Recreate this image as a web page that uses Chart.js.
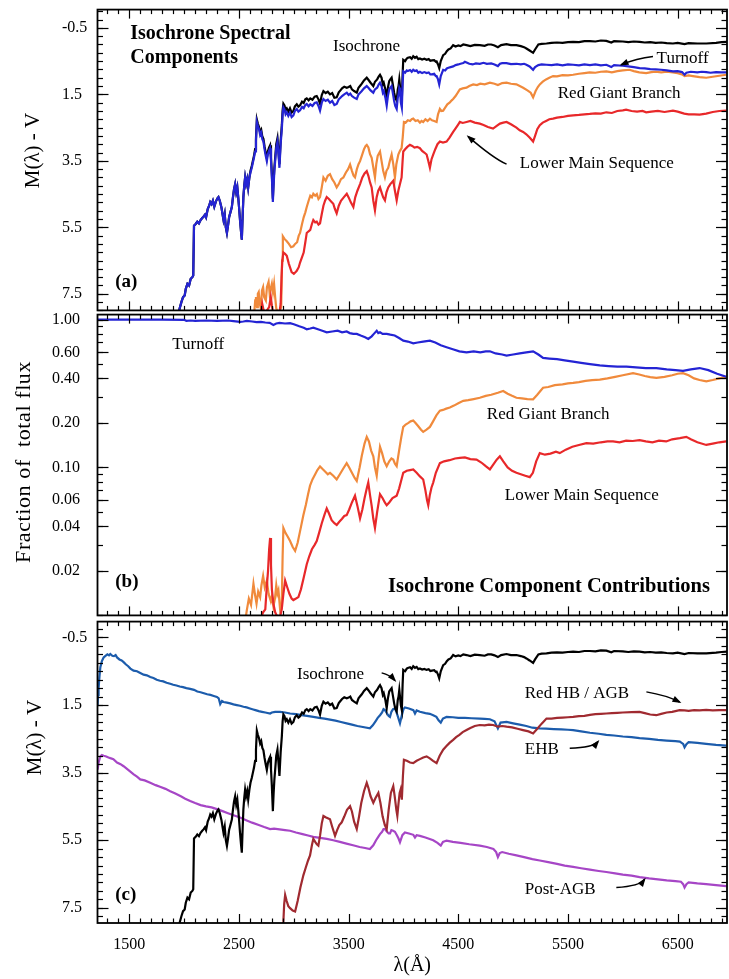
<!DOCTYPE html>
<html>
<head>
<meta charset="utf-8">
<script src="https://cdn.jsdelivr.net/npm/chart.js@4.4.0/dist/chart.umd.min.js"></script>
<style>
  html, body { margin: 0; padding: 0; background: #fff; }
  #wrap { position: relative; width: 729px; height: 979px; overflow: hidden; background: #fff; }
  .panel { position: absolute; left: 0; width: 729px; }
  canvas { display: block; }
</style>
</head>
<body>
<div id="wrap">
  <div class="panel" style="top:0px;height:320px"><canvas id="cA" width="729" height="320"></canvas></div>
  <div class="panel" style="top:305px;height:320px"><canvas id="cB" width="729" height="320"></canvas></div>
  <div class="panel" style="top:612px;height:367px"><canvas id="cC" width="729" height="367"></canvas></div>
</div>
<script>
// ---------- axis ticks ----------
const waveTicks = [1500, 2500, 3500, 4500, 5500, 6500];
const magTicks = [-0.5, 1.5, 3.5, 5.5, 7.5];
const fracTicks = [1.00, 0.60, 0.40, 0.20, 0.10, 0.06, 0.04, 0.02];

// ---------- full isochrone spectrum, M(lambda) - V (panels a and c) ----------
const iso_wave = [1950,1975,1990,2005,2015,2030,2045,2060,2075,2083,2090,2105,2120,2135,2150,2165,2177,2190,2200,2215,2228,2238,2250,2262,2275,2290,2305,2313,2325,2340,2350,2359,2370,2380,2390,2400,2410,2422,2435,2445,2455,2465,2475,2485,2493,2502,2510,2518,2526,2533,2540,2548,2556,2565,2575,2584,2595,
  2605,2617,2627,2637,2647,2655,2663,2672,2683,2693,2703,2713,2723,2733,2744,2754,2764,2774,2784,2792,2800,2809,2816,2823,2830,2840,2851,2860,2869,2880,2891,2898,2905,2915,2925,2936,2950,2965,2980,2996,3010,3027,3042,3057,3075,3090,3105,3118,3135,3150,3170,3190,3209,3225,3239,3255,3270,3290,3310,3330,3350,3370,3391,3410,3425,3440,3460,3483,3500,3515,3530,3550,3574,3590,3605,3620,3640,3665,3680,3700,3725,3740,3760,3775,3786,3800,3812,3820,3835,3847,3858,3870,3880,3892,3905,3915,3925,3938,3948,3955,3962,3968,3976,3985,3992,3998,4015,4030,4040,4060,4075,4089,4105,4120,4135,4150,4170,4190,4211,4230,4245,4260,4280,4295,4302,4315,4326,4340,4362,4380,4395,4410,4430,4453,4475,4500,4520,4545,4575,4610,4650,4696,4740,4770,4800,4830,4861,4890,4939,4980,5030,5070,5100,5121,5150,5182,5200,5230,5260,5304,5350,5400,5450,5500,5547,5600,5650,5700,5750,5800,5850,5895,5920,6000,6050,6100,6153,6200,6250,6300,6350,6400,6457,6500,6563,6600,6680,6761,6850,6900,6950];
const iso_mag = [8.05,7.75,7.6,7.55,7.35,7.2,7.25,7.05,7.0,6.95,5.45,5.4,5.33,5.38,5.28,5.22,5.18,5.12,5.2,4.95,4.85,4.74,4.8,4.7,4.88,4.72,4.62,4.59,4.7,4.9,5.1,5.28,5.1,5.5,5.67,5.45,5.2,5.05,4.89,4.6,4.35,4.2,4.45,4.3,4.59,4.95,5.3,5.6,5.87,5.2,4.6,4.25,4.0,4.2,4.05,4.3,4.0,
  3.8,3.65,3.5,3.35,3.15,2.82,2.26,2.38,2.48,2.64,2.57,2.77,2.84,3.06,3.26,3.42,3.21,3.1,3.03,3.4,3.9,4.64,4.1,3.7,3.42,3.0,2.82,3.2,3.6,2.9,2.42,1.98,1.78,1.83,1.97,1.92,2.02,1.92,2.05,2.0,1.86,1.8,1.87,1.83,1.72,1.76,1.65,1.62,1.68,1.62,1.66,1.57,1.55,1.65,1.78,1.52,1.40,1.46,1.42,1.50,1.46,1.6,1.59,1.44,1.38,1.32,1.27,1.30,1.28,1.25,1.35,1.4,1.45,1.3,1.24,1.18,1.08,1.0,1.06,1.15,1.25,1.12,1.05,0.96,0.91,1.0,1.2,1.15,1.35,1.59,1.3,1.10,1.05,1.0,1.25,1.45,1.6,1.69,1.35,1.25,1.05,1.05,1.5,1.65,0.9,0.46,0.5,0.42,0.40,0.38,0.43,0.35,0.4,0.37,0.44,0.42,0.45,0.43,0.46,0.44,0.49,0.48,0.47,0.52,0.51,0.6,0.71,0.5,0.32,0.28,0.2,0.15,0.12,0.02,0.06,0.03,0.05,0.0,0.02,0.05,0.01,0.02,0.04,0.0,0.0,0.03,0.08,0.02,-0.01,0.02,0.02,0.05,0.08,0.12,0.18,0.25,0.15,0.0,-0.02,-0.03,-0.05,-0.06,-0.05,-0.07,-0.08,-0.07,-0.1,-0.10,-0.09,-0.12,-0.11,-0.06,-0.1,-0.09,-0.07,-0.09,-0.08,-0.06,-0.07,-0.05,-0.06,-0.04,-0.03,-0.05,-0.01,-0.04,-0.03,-0.03,-0.05,-0.07,-0.08];

// ---------- panel (a): components ----------
const turnoff_wave = [1950,1975,1990,2005,2015,2030,2045,2060,2075,2083,2090,2105,2120,2135,2150,2165,2177,2190,2200,2215,2228,2238,2250,2262,2275,2290,2305,2313,2325,2340,2350,2359,2370,2380,2390,2400,2410,2422,2435,2445,2455,2465,2475,2485,2493,2502,2510,2518,2526,2533,2540,2548,2556,2565,2575,2584,2595,2605,2617,2627,2637,2647,2655,2663,2672,2683,2693,2703,2713,2723,2733,2744,2754,2764,2774,2784,2792,2800,2809,2816,2823,2830,2840,2851,2860,2869,2880,2891,2898,2905,2915,2925,2936,2950,2965,2980,2996,3010,3027,3042,3057,3075,3090,3105,3118,3135,3150,3170,3190,3209,3225,3239,3255,3270,3290,3310,3330,3350,3370,3391,3410,3425,3440,3460,3483,3500,3515,3530,3550,3574,3590,3605,3620,3640,3665,3680,3700,3725,3740,3760,3775,3786,3800,3812,3820,3835,3847,3858,3870,3880,3892,3905,3915,3925,3938,3948,3955,3962,3968,3976,3985,3992,3998,4015,4030,4040,4060,4075,4089,4105,4120,4135,4150,4170,4190,4211,4230,4245,4260,4280,4295,4302,4315,4326,4340,4362,4380,4395,4410,4430,4453,4475,4500,4520,4545,4560,4575,4600,4630,4660,4696,4730,4760,4800,4830,4861,4880,4900,4939,4980,5030,5070,5100,5121,5150,5182,5200,5230,5260,5304,5350,5400,5450,5500,5547,5600,5650,5700,5750,5800,5850,5895,5920,6000,6050,6100,6153,6200,6250,6300,6350,6400,6457,6500,6540,6563,6580,6620,6680,6720,6761,6800,6850,6900,6950];
const turnoff_mag = [8.05,7.75,7.6,7.55,7.35,7.2,7.25,7.05,7.0,6.95,5.45,5.4,5.33,5.38,5.28,5.22,5.18,5.12,5.2,4.95,4.85,4.74,4.8,4.7,4.88,4.72,4.62,4.59,4.7,4.9,5.1,5.28,5.1,5.5,5.67,5.45,5.2,5.05,4.89,4.6,4.35,4.2,4.45,4.3,4.59,4.95,5.3,5.6,5.87,5.2,4.6,4.25,4.0,4.2,4.05,4.3,4.0,3.85,3.71,3.55,3.4,3.22,2.9,2.33,2.45,2.55,2.72,2.65,2.85,2.92,3.15,3.35,3.51,3.3,3.2,3.12,3.5,4.0,4.74,4.2,3.8,3.51,3.1,2.92,3.3,3.71,3.0,2.53,2.1,1.89,1.95,2.1,2.04,2.15,2.05,2.18,2.13,2.0,1.94,2.02,1.98,1.88,1.92,1.82,1.79,1.86,1.8,1.85,1.76,1.74,1.85,1.99,1.75,1.64,1.7,1.66,1.75,1.7,1.82,1.79,1.65,1.6,1.55,1.5,1.45,1.52,1.48,1.55,1.6,1.64,1.5,1.45,1.40,1.32,1.25,1.3,1.38,1.45,1.35,1.30,1.2,1.15,1.25,1.45,1.40,1.6,1.84,1.55,1.35,1.3,1.25,1.5,1.70,1.85,1.94,1.6,1.50,1.3,1.35,1.75,1.90,1.2,0.81,0.85,0.78,0.80,0.77,0.82,0.76,0.8,0.78,0.85,0.82,0.86,0.83,0.86,0.84,0.9,0.90,0.88,0.95,0.95,1.05,1.20,0.95,0.76,0.78,0.72,0.70,0.68,0.66,0.62,0.6,0.58,0.56,0.52,0.54,0.58,0.60,0.57,0.58,0.55,0.58,0.57,0.6,0.65,0.58,0.56,0.56,0.59,0.58,0.6,0.58,0.61,0.66,0.76,0.68,0.62,0.6,0.61,0.62,0.60,0.63,0.6,0.61,0.63,0.6,0.62,0.6,0.63,0.61,0.68,0.62,0.64,0.66,0.68,0.71,0.72,0.74,0.75,0.76,0.78,0.81,0.8,0.83,0.91,0.85,0.82,0.84,0.82,0.83,0.85,0.83,0.84,0.84];

const rgb_wave = [2640,2648,2655,2665,2672,2680,2690,2700,2710,2720,2730,2745,2755,2770,2780,2790,2800,2810,2820,2830,2840,2855,2870,2885,2893,2900,2915,2936,2955,2975,2996,3012,3030,3045,3057,3075,3090,3105,3118,3135,3150,3165,3178,3195,3210,3225,3239,3255,3270,3290,3310,3330,3350,3370,3391,3410,3430,3452,3475,3495,3513,3530,3545,3558,3575,3590,3604,3620,3640,3655,3665,3680,3695,3710,3725,3740,3752,3765,3786,3800,3815,3831,3845,3861,3876,3892,3907,3922,3935,3953,3968,3983,3993,4004,4020,4040,4060,4075,4089,4110,4130,4150,4165,4180,4200,4220,4241,4260,4280,4302,4315,4332,4345,4362,4380,4400,4423,4440,4453,4475,4495,4514,4540,4575,4600,4636,4670,4700,4740,4788,4830,4861,4900,4940,4980,5030,5060,5091,5130,5160,5182,5205,5225,5243,5270,5300,5330,5364,5400,5450,5500,5547,5600,5650,5698,5750,5800,5850,5900,5950,6000,6061,6100,6150,6213,6260,6300,6350,6400,6457,6500,6540,6563,6600,6639,6700,6761,6820,6880,6943];
const rgb_mag = [8.05,7.7,7.6,7.9,7.5,7.45,7.8,7.95,7.4,7.3,7.6,7.7,7.3,7.14,7.5,7.35,7.2,7.45,7.2,7.6,7.94,8.05,8.05,7.9,6.5,5.77,5.85,5.92,6.0,6.1,6.07,6.0,5.95,5.75,5.67,5.4,5.2,5.05,4.89,4.7,4.55,4.6,4.49,4.55,4.5,4.65,4.59,4.3,4.0,4.1,3.95,3.9,4.05,4.15,4.3,4.2,4.05,4.0,3.85,3.75,3.61,3.8,3.95,4.0,3.75,3.6,3.51,3.35,3.15,3.05,3.02,3.1,3.3,3.41,3.7,4.0,3.6,3.35,3.22,3.5,3.8,4.0,3.8,3.71,3.5,3.31,3.6,4.0,3.6,3.31,3.2,3.12,2.8,2.33,2.35,2.28,2.3,2.25,2.23,2.3,2.28,2.35,2.3,2.33,2.25,2.3,2.23,2.28,2.3,2.33,2.1,1.94,2.0,1.99,1.9,1.8,1.74,1.68,1.64,1.55,1.45,1.35,1.32,1.30,1.25,1.20,1.22,1.18,1.2,1.15,1.18,1.22,1.16,1.15,1.18,1.2,1.25,1.30,1.38,1.45,1.59,1.4,1.28,1.20,1.12,1.05,1.0,0.95,0.96,0.92,0.93,0.91,0.88,0.86,0.84,0.85,0.82,0.81,0.84,0.8,0.78,0.76,0.8,0.84,0.86,0.83,0.82,0.84,0.82,0.84,0.86,0.9,0.95,0.93,0.95,0.98,1.0,0.97,0.94,0.91];

const lms_wave = [2700,2712,2725,2745,2775,2790,2800,2810,2870,2880,2888,2895,2905,2920,2936,2955,2980,3000,3015,3027,3045,3057,3075,3090,3105,3118,3135,3150,3165,3178,3195,3209,3225,3239,3255,3270,3285,3300,3320,3340,3360,3375,3391,3410,3430,3455,3483,3500,3520,3543,3560,3580,3604,3625,3645,3665,3680,3695,3710,3725,3740,3755,3770,3786,3800,3815,3831,3845,3861,3880,3907,3922,3938,3953,3968,3983,3992,3998,4015,4035,4059,4080,4100,4125,4150,4170,4190,4211,4226,4241,4256,4271,4290,4310,4332,4360,4393,4420,4453,4480,4500,4514,4540,4575,4610,4650,4696,4730,4770,4817,4850,4880,4910,4940,4980,5030,5060,5091,5120,5150,5182,5200,5220,5243,5270,5300,5330,5364,5400,5450,5500,5547,5600,5650,5698,5750,5800,5850,5900,5950,6000,6030,6080,6130,6180,6213,6260,6320,6380,6457,6500,6560,6600,6650,6700,6760,6820,6880,6943];
const lms_mag = [8.05,7.8,8.0,8.05,7.9,7.6,7.85,8.05,8.05,7.8,7.0,6.5,6.26,6.3,6.36,6.6,6.85,6.9,6.85,6.81,6.7,6.56,6.4,6.26,5.95,5.67,5.62,5.58,5.4,5.28,5.35,5.33,5.42,5.38,5.1,4.85,4.7,4.59,4.65,4.72,4.79,4.95,5.08,4.85,4.7,4.6,4.49,4.6,4.75,4.89,4.6,4.4,4.2,4.0,3.88,3.81,3.95,4.15,4.3,4.7,4.99,4.6,4.4,4.3,4.45,4.6,4.69,4.45,4.3,4.2,4.1,4.4,4.69,4.4,4.2,4.0,3.5,3.22,3.15,3.08,3.02,3.05,3.1,3.08,3.12,3.2,3.25,3.31,3.5,3.71,3.45,3.31,3.15,3.0,2.92,2.95,2.92,2.8,2.63,2.5,2.4,2.33,2.36,2.33,2.3,2.35,2.38,2.42,2.48,2.53,2.45,2.38,2.35,2.33,2.4,2.5,2.58,2.63,2.7,2.8,2.92,2.75,2.55,2.43,2.35,2.3,2.25,2.23,2.2,2.18,2.15,2.13,2.12,2.1,2.09,2.07,2.08,2.04,2.06,2.0,1.98,1.96,2.0,2.02,2.0,2.04,2.02,2.0,2.03,1.99,2.02,2.08,2.1,2.1,2.11,2.08,2.03,2.0,1.99];

// ---------- panel (b): fraction of the total flux ----------
const turnoffFrac_wave = [1210,1500,1800,2000,2020,2060,2100,2200,2300,2400,2450,2511,2540,2572,2620,2660,2700,2740,2780,2814,2840,2870,2920,2966,3000,3050,3090,3118,3150,3178,3220,3260,3300,3350,3400,3440,3482,3510,3543,3574,3610,3650,3679,3710,3730,3756,3770,3786,3810,3847,3880,3920,3960,3998,4040,4089,4130,4180,4241,4290,4340,4393,4450,4510,4575,4640,4700,4750,4788,4840,4900,4940,5000,5060,5120,5182,5230,5273,5330,5400,5470,5547,5620,5700,5790,5870,5950,6033,6120,6210,6306,6400,6480,6549,6620,6700,6780,6860,6943];
const turnoffFrac = [1.0,1.0,1.0,0.995,0.98,0.985,0.98,0.985,0.98,0.985,0.975,0.965,0.97,0.98,0.97,0.96,0.965,0.955,0.95,0.92,0.94,0.95,0.94,0.945,0.93,0.90,0.88,0.86,0.87,0.88,0.86,0.84,0.82,0.83,0.84,0.82,0.83,0.81,0.80,0.80,0.78,0.76,0.74,0.77,0.80,0.84,0.81,0.82,0.80,0.80,0.79,0.78,0.75,0.72,0.71,0.69,0.70,0.71,0.72,0.70,0.67,0.65,0.63,0.61,0.60,0.61,0.60,0.61,0.61,0.59,0.58,0.57,0.58,0.59,0.60,0.61,0.58,0.55,0.545,0.54,0.53,0.52,0.51,0.50,0.49,0.485,0.48,0.48,0.475,0.47,0.47,0.46,0.455,0.45,0.46,0.47,0.455,0.43,0.41];

const rgbFrac_wave = [2560,2572,2590,2610,2632,2645,2660,2675,2693,2705,2720,2735,2754,2770,2790,2800,2814,2828,2840,2850,2860,2875,2890,2898,2905,2925,2945,2966,2990,3012,3035,3060,3087,3110,3130,3148,3170,3195,3215,3239,3260,3285,3310,3330,3360,3391,3420,3450,3482,3505,3530,3555,3574,3600,3620,3645,3665,3685,3705,3725,3740,3756,3770,3786,3805,3825,3847,3870,3890,3907,3922,3938,3960,3980,3998,4020,4045,4065,4089,4110,4135,4160,4180,4210,4241,4270,4300,4332,4360,4390,4423,4460,4500,4545,4590,4640,4696,4750,4800,4861,4909,4950,4990,5030,5080,5130,5182,5220,5250,5273,5320,5380,5450,5500,5547,5600,5660,5720,5790,5860,5930,6000,6093,6150,6200,6250,6306,6380,6450,6500,6549,6600,6650,6700,6761,6820,6880,6943];
const rgbFrac = [0.0095,0.0109,0.013,0.0118,0.0164,0.014,0.012,0.0145,0.0133,0.016,0.0185,0.0155,0.0172,0.014,0.0125,0.0135,0.0115,0.013,0.016,0.014,0.0148,0.011,0.012,0.025,0.039,0.036,0.034,0.0318,0.029,0.0273,0.031,0.038,0.0476,0.056,0.066,0.0753,0.083,0.09,0.096,0.1017,0.098,0.094,0.09,0.092,0.088,0.083,0.09,0.098,0.107,0.1,0.092,0.085,0.081,0.1,0.12,0.145,0.161,0.15,0.13,0.119,0.1,0.088,0.11,0.138,0.125,0.11,0.102,0.11,0.115,0.113,0.106,0.102,0.13,0.16,0.188,0.195,0.2,0.205,0.208,0.2,0.19,0.18,0.174,0.18,0.188,0.205,0.225,0.242,0.245,0.25,0.254,0.262,0.272,0.282,0.285,0.29,0.296,0.305,0.31,0.32,0.329,0.315,0.305,0.296,0.293,0.29,0.289,0.31,0.33,0.346,0.35,0.36,0.365,0.37,0.373,0.378,0.385,0.39,0.392,0.40,0.41,0.42,0.434,0.425,0.415,0.408,0.403,0.41,0.42,0.43,0.434,0.42,0.4,0.39,0.382,0.39,0.4,0.41];

const lmsFrac_wave = [2700,2720,2740,2752,2765,2775,2784,2792,2800,2814,2830,2850,2875,2890,2905,2921,2940,2960,2980,2996,3020,3042,3065,3090,3118,3140,3165,3190,3209,3230,3255,3280,3300,3320,3345,3370,3391,3415,3440,3460,3482,3505,3530,3558,3580,3604,3625,3645,3665,3679,3695,3710,3725,3740,3760,3786,3810,3830,3847,3870,3900,3938,3960,3980,3998,4030,4060,4089,4120,4150,4180,4200,4215,4226,4240,4255,4271,4295,4332,4370,4420,4470,4514,4560,4610,4666,4710,4750,4788,4820,4850,4879,4910,4950,4990,5030,5070,5110,5152,5180,5210,5243,5290,5340,5390,5425,5480,5540,5600,5668,5730,5800,5860,5911,5970,6030,6090,6153,6210,6270,6330,6396,6450,6520,6579,6620,6680,6761,6820,6880,6943];
const lmsFrac = [0.0095,0.0105,0.011,0.015,0.02,0.028,0.0334,0.022,0.015,0.012,0.0105,0.0098,0.0098,0.011,0.014,0.0172,0.0155,0.014,0.013,0.0127,0.013,0.0133,0.015,0.018,0.0222,0.025,0.028,0.03,0.0318,0.036,0.042,0.048,0.0528,0.049,0.044,0.042,0.0409,0.043,0.045,0.047,0.0476,0.052,0.058,0.0645,0.055,0.0453,0.052,0.062,0.072,0.0792,0.065,0.055,0.045,0.039,0.05,0.066,0.062,0.058,0.0555,0.058,0.062,0.0645,0.072,0.082,0.092,0.095,0.096,0.097,0.092,0.087,0.083,0.07,0.06,0.0555,0.065,0.073,0.079,0.092,0.107,0.11,0.112,0.115,0.116,0.117,0.114,0.113,0.108,0.102,0.097,0.105,0.113,0.119,0.11,0.1,0.095,0.092,0.09,0.088,0.086,0.092,0.11,0.125,0.122,0.124,0.128,0.125,0.132,0.138,0.142,0.146,0.145,0.148,0.15,0.150,0.148,0.152,0.151,0.153,0.15,0.148,0.152,0.150,0.155,0.158,0.161,0.155,0.148,0.142,0.145,0.148,0.150];

// ---------- panel (c): hot horizontal-branch and post-AGB components ----------
const ehb_wave = [1211,1215,1220,1228,1236,1250,1266,1280,1300,1315,1327,1345,1360,1375,1388,1410,1430,1448,1470,1490,1510,1539,1570,1600,1630,1660,1691,1720,1750,1780,1810,1840,1873,1900,1930,1960,1990,2020,2055,2090,2120,2150,2180,2210,2240,2270,2299,2315,2329,2345,2359,2390,2420,2450,2480,2510,2541,2570,2600,2630,2650,2680,2710,2740,2784,2800,2830,2875,2920,2966,3020,3070,3120,3178,3230,3280,3330,3380,3430,3482,3530,3580,3630,3694,3720,3745,3765,3786,3805,3818,3831,3850,3865,3877,3890,3905,3922,3935,3950,3968,3985,4000,4013,4050,4090,4105,4120,4150,4200,4240,4271,4300,4320,4340,4360,4393,4450,4500,4560,4620,4696,4740,4788,4830,4861,4885,4940,5000,5060,5120,5175,5243,5300,5370,5440,5500,5547,5620,5700,5780,5850,5920,6000,6080,6153,6240,6320,6400,6480,6520,6550,6563,6580,6600,6680,6760,6850,6943];
const ehb_mag = [1.50,1.2,1.0,0.65,0.38,0.2,0.09,0.05,0.0,0.03,-0.01,0.04,0.05,0.02,0.09,0.15,0.18,0.23,0.3,0.35,0.42,0.48,0.5,0.55,0.6,0.62,0.67,0.7,0.75,0.78,0.8,0.84,0.87,0.9,0.92,0.95,0.97,1.0,1.02,1.05,1.1,1.12,1.15,1.18,1.2,1.23,1.26,1.3,1.47,1.38,1.41,1.43,1.45,1.48,1.5,1.52,1.55,1.57,1.6,1.63,1.65,1.68,1.7,1.72,1.75,1.72,1.7,1.70,1.72,1.75,1.77,1.8,1.82,1.85,1.88,1.9,1.93,1.96,2.0,2.04,2.08,2.12,2.15,2.19,2.1,1.98,1.88,1.80,1.72,1.62,1.65,1.75,1.82,1.85,1.7,1.62,1.60,1.7,1.85,2.04,1.8,1.62,1.57,1.6,1.65,1.75,1.66,1.70,1.74,1.76,1.80,1.85,1.95,2.02,1.9,1.85,1.86,1.88,1.88,1.89,1.90,1.91,1.92,1.98,2.19,2.02,2.0,2.04,2.08,2.12,2.17,2.19,2.2,2.21,2.22,2.23,2.24,2.28,2.32,2.35,2.38,2.4,2.43,2.45,2.48,2.5,2.53,2.55,2.57,2.58,2.65,2.75,2.66,2.60,2.62,2.65,2.68,2.70];

const pagb_wave = [1211,1220,1236,1250,1266,1290,1310,1327,1355,1388,1420,1448,1490,1540,1570,1600,1640,1691,1740,1780,1830,1873,1920,1970,2010,2055,2100,2150,2200,2250,2299,2350,2400,2450,2510,2560,2620,2680,2730,2784,2820,2870,2920,2966,3020,3080,3130,3178,3240,3300,3360,3420,3480,3540,3600,3650,3694,3725,3750,3770,3786,3805,3818,3831,3850,3865,3877,3890,3905,3922,3940,3955,3968,3990,4013,4050,4090,4105,4120,4150,4200,4271,4310,4340,4360,4393,4450,4520,4600,4696,4760,4820,4845,4861,4878,4900,4960,5030,5100,5175,5243,5320,5400,5470,5547,5620,5700,5780,5850,5930,6000,6080,6153,6240,6320,6400,6480,6530,6550,6563,6580,6600,6680,6760,6850,6943];
const pagb_mag = [3.41,3.2,3.02,2.98,3.0,3.02,3.05,3.07,3.1,3.2,3.25,3.31,3.42,3.55,3.62,3.70,3.73,3.80,3.87,3.92,3.98,4.05,4.12,4.2,4.27,4.34,4.4,4.46,4.5,4.53,4.58,4.64,4.7,4.76,4.83,4.9,4.98,5.05,5.11,5.17,5.16,5.18,5.2,5.22,5.27,5.32,5.36,5.40,5.43,5.46,5.5,5.55,5.6,5.65,5.7,5.73,5.76,5.65,5.5,5.4,5.32,5.25,5.17,5.17,5.25,5.3,5.30,5.2,5.22,5.25,5.35,5.45,5.56,5.35,5.27,5.3,5.34,5.42,5.35,5.37,5.42,5.5,5.58,5.66,5.55,5.51,5.55,5.58,5.62,5.66,5.7,5.76,5.85,6.0,5.88,5.85,5.9,5.95,6.0,6.06,6.10,6.15,6.2,6.25,6.29,6.33,6.37,6.41,6.44,6.48,6.52,6.55,6.59,6.63,6.66,6.69,6.71,6.73,6.8,6.90,6.8,6.75,6.78,6.8,6.83,6.86];

const redhb_wave = [2895,2905,2912,2921,2935,2950,2966,2990,3012,3035,3060,3087,3110,3130,3148,3165,3178,3195,3210,3224,3240,3255,3270,3290,3310,3330,3350,3376,3395,3415,3437,3460,3485,3513,3530,3550,3574,3595,3615,3640,3665,3680,3700,3725,3745,3771,3790,3810,3830,3847,3865,3885,3907,3920,3935,3944,3955,3965,3974,3985,3995,4004,4030,4060,4089,4120,4150,4180,4211,4240,4270,4302,4330,4362,4390,4420,4453,4480,4510,4540,4575,4610,4650,4696,4740,4780,4818,4861,4900,4940,4990,5040,5090,5140,5182,5220,5260,5304,5350,5400,5450,5500,5547,5600,5650,5700,5750,5800,5850,5900,5950,6000,6080,6153,6200,6250,6305,6350,6400,6450,6518,6563,6600,6650,6700,6760,6820,6880,6943];
const redhb_mag = [8.05,7.91,7.4,7.12,7.3,7.45,7.51,7.58,7.61,7.3,6.9,6.54,6.3,6.1,5.95,5.65,5.46,5.55,5.62,5.66,5.35,5.0,4.78,4.82,4.85,4.88,5.1,5.37,5.2,5.05,4.97,4.8,4.6,4.49,4.65,4.95,5.17,4.8,4.4,4.05,3.80,3.95,4.2,4.39,4.25,4.10,4.4,4.8,5.05,5.17,4.6,4.1,3.90,4.2,4.6,4.78,4.4,4.1,4.0,4.3,3.6,3.12,3.15,3.2,3.22,3.15,3.1,3.05,3.02,3.08,3.15,3.22,3.0,2.82,2.72,2.62,2.53,2.45,2.38,2.3,2.24,2.18,2.12,2.09,2.1,2.08,2.09,2.14,2.12,2.14,2.16,2.2,2.24,2.28,2.34,2.2,2.05,1.90,1.9,1.88,1.87,1.86,1.85,1.83,1.82,1.79,1.77,1.76,1.75,1.74,1.73,1.72,1.71,1.70,1.74,1.78,1.80,1.76,1.72,1.7,1.65,1.66,1.67,1.65,1.66,1.64,1.66,1.65,1.65];

// ---------- styling ----------
const SERIF = "'Liberation Serif', 'Times New Roman', serif";
const COLORS = {
  iso: '#000000', turnoff: '#2424d4', rgb: '#f08a3c', lms: '#e8282a',
  ehb: '#1c5cac', pagb: '#a646c6', redhb: '#a02a30'
};
const WAVE_MIN = 1210, WAVE_MAX = 6950;

function series(label, xs, ys, color) {
  return {
    label, data: xs.map((x, i) => ({ x, y: ys[i] })),
    borderColor: color, borderWidth: 2.2, pointRadius: 0, tension: 0, fill: false,
    borderJoinStyle: 'miter'
  };
}

// Plot frame with inward major/minor tick marks on all four sides.
const frameTicks = {
  id: 'frameTicks',
  afterDatasetsDraw(chart, args, opts) {
    const { ctx, chartArea: a, scales: { x, y } } = chart;
    ctx.save();
    ctx.strokeStyle = '#000';
    const seg = (x1, y1, x2, y2) => { ctx.beginPath(); ctx.moveTo(x1, y1); ctx.lineTo(x2, y2); ctx.stroke(); };
    ctx.lineWidth = 1.2;
    for (let v = Math.ceil(WAVE_MIN / 100) * 100; v <= WAVE_MAX; v += 100) {
      const px = Math.round(x.getPixelForValue(v)) + 0.5;
      const len = ((v - 1500) % 1000 === 0) ? 9 : 4.5;
      seg(px, a.bottom, px, a.bottom - len);
      seg(px, a.top, px, a.top + len);
    }
    const yTick = (v, len) => {
      const py = Math.round(y.getPixelForValue(v)) + 0.5;
      if (py < a.top - 0.5 || py > a.bottom + 0.5) return;
      seg(a.left, py, a.left + len, py);
      seg(a.right, py, a.right - len, py);
    };
    (opts.minor || []).forEach(v => yTick(v, 5.5));
    (opts.major || []).forEach(v => yTick(v, 11));
    ctx.lineWidth = 1.8;
    ctx.strokeRect(a.left, a.top, a.right - a.left, a.bottom - a.top);
    ctx.restore();
  }
};

// Curve labels, panel tags, leader arrows and the vertical axis title.
const notes = {
  id: 'notes',
  afterDraw(chart, args, opts) {
    const { ctx, chartArea: a, scales: { x, y } } = chart;
    ctx.save();
    ctx.fillStyle = '#000';
    ctx.strokeStyle = '#000';
    ctx.textBaseline = 'middle';
    ctx.textAlign = 'left';
    (opts.labels || []).forEach(n => {
      ctx.font = (n.bold ? 'bold ' : '') + (n.size || 17) + 'px ' + SERIF;
      ctx.fillText(n.text, x.getPixelForValue(n.at[0]), y.getPixelForValue(n.at[1]));
    });
    (opts.arrows || []).forEach(pts => {
      const p = pts.map(q => [x.getPixelForValue(q[0]), y.getPixelForValue(q[1])]);
      ctx.lineWidth = 1.5;
      ctx.beginPath();
      ctx.moveTo(p[0][0], p[0][1]);
      ctx.quadraticCurveTo(p[1][0], p[1][1], p[2][0], p[2][1]);
      ctx.stroke();
      const ang = Math.atan2(p[2][1] - p[1][1], p[2][0] - p[1][0]);
      const L = 7, W = 3.2;
      ctx.beginPath();
      ctx.moveTo(p[2][0] + Math.cos(ang) * 2, p[2][1] + Math.sin(ang) * 2);
      ctx.lineTo(p[2][0] - Math.cos(ang) * L + Math.sin(ang) * W, p[2][1] - Math.sin(ang) * L - Math.cos(ang) * W);
      ctx.lineTo(p[2][0] - Math.cos(ang) * L - Math.sin(ang) * W, p[2][1] - Math.sin(ang) * L + Math.cos(ang) * W);
      ctx.closePath();
      ctx.fill();
    });
    if (opts.yTitle) {
      const t = opts.yTitle;
      ctx.font = t.size + 'px ' + SERIF;
      if ('letterSpacing' in ctx) ctx.letterSpacing = (t.spacing || 0) + 'px';
      ctx.textAlign = 'center';
      ctx.translate(a.left - t.gap, y.getPixelForValue(t.at));
      ctx.rotate(-Math.PI / 2);
      ctx.fillText(t.text, 0, 0);
    }
    ctx.restore();
  }
};

function xScale(showLabels, axisHeight) {
  const s = {
    type: 'linear', min: WAVE_MIN, max: WAVE_MAX,
    grid: { display: false, drawTicks: false }, border: { display: false },
    afterFit: sc => { sc.height = axisHeight; }
  };
  if (showLabels) {
    s.afterBuildTicks = sc => { sc.ticks = waveTicks.map(v => ({ value: v })); };
    s.ticks = { display: true, autoSkip: false, maxRotation: 0, padding: 12, color: '#000',
                font: { family: SERIF, size: 16 }, callback: v => String(v) };
    s.title = { display: true, text: 'λ(Å)', color: '#000', font: { family: SERIF, size: 20 },
                padding: { top: 0, bottom: 1 } };
  } else {
    s.ticks = { display: false };
  }
  return s;
}

function magScale(min, max, width) {
  return {
    type: 'linear', reverse: true, min, max,
    grid: { display: false, drawTicks: false }, border: { display: false },
    afterBuildTicks: sc => { sc.ticks = magTicks.map(v => ({ value: v })); },
    ticks: { autoSkip: false, crossAlign: 'far', padding: 0, color: '#000',
             font: { family: SERIF, size: 16 }, callback: v => v.toFixed(1) },
    afterFit: sc => { sc.width = width; }
  };
}

function magMinor(min, max) {
  const out = [];
  for (let v = -0.5 - 0.25 * Math.floor((-0.5 - min) / 0.25); v <= max; v += 0.25) out.push(+v.toFixed(2));
  return out;
}

const baseOpts = (pad) => ({
  responsive: false, animation: false, devicePixelRatio: 1,
  layout: { padding: pad },
  plugins: { legend: { display: false }, tooltip: { enabled: false } }
});

// Panel (a)
{
  const o = baseOpts({ left: 62, right: 2, top: 5, bottom: 8 });
  o.scales = { x: xScale(false, 0), y: magScale(-1.05, 8.0, 35.5) };
  o.plugins.frameTicks = { major: magTicks, minor: magMinor(-1.05, 8.0) };
  o.plugins.notes = {
    labels: [
      { text: 'Isochrone Spectral', at: [1509, -0.32], bold: true, size: 20 },
      { text: 'Components', at: [1509, 0.41], bold: true, size: 20 },
      { text: 'Isochrone', at: [3358, 0.06] },
      { text: 'Turnoff', at: [6308, 0.41] },
      { text: 'Red Giant Branch', at: [5407, 1.48] },
      { text: 'Lower Main Sequence', at: [5061, 3.57] },
      { text: '(a)', at: [1372, 7.14], bold: true, size: 19 }
    ],
    arrows: [
      [[6275, 0.36], [6124, 0.41], [5987, 0.61]],
      [[4940, 3.6], [4818, 3.42], [4590, 2.77]]
    ],
    yTitle: { text: 'M(λ) - V', at: 3.19, gap: 64, size: 21 }
  };
  new Chart(document.getElementById('cA'), {
    type: 'line',
    data: { datasets: [
      series('Turnoff', turnoff_wave, turnoff_mag, COLORS.turnoff),
      series('Lower Main Sequence', lms_wave, lms_mag, COLORS.lms),
      series('Red Giant Branch', rgb_wave, rgb_mag, COLORS.rgb),
      series('Isochrone', iso_wave, iso_mag, COLORS.iso)
    ] },
    options: o, plugins: [frameTicks, notes]
  });
}

// Panel (b)
{
  const o = baseOpts({ left: 52, right: 2, top: 7, bottom: 7 });
  const minor = [];
  [0.01, 0.1].forEach(d => { for (let m = 1; m <= 9; m++) minor.push(+(m * d).toFixed(3)); });
  minor.push(1.0);
  o.scales = {
    x: xScale(false, 0),
    y: {
      type: 'logarithmic', min: 0.01, max: 1.08,
      grid: { display: false, drawTicks: false }, border: { display: false },
      afterBuildTicks: sc => { sc.ticks = fracTicks.map(v => ({ value: v })); },
      ticks: { autoSkip: false, crossAlign: 'far', padding: 0, color: '#000',
               font: { family: SERIF, size: 16 }, callback: v => Number(v).toFixed(2) },
      afterFit: sc => { sc.width = 45.5; }
    }
  };
  o.plugins.frameTicks = { major: fracTicks, minor };
  o.plugins.notes = {
    labels: [
      { text: 'Turnoff', at: [1892, 0.673] },
      { text: 'Red Giant Branch', at: [4760, 0.228] },
      { text: 'Lower Main Sequence', at: [4924, 0.0644] },
      { text: 'Isochrone Component Contributions', at: [3859, 0.01559], bold: true, size: 20.5 },
      { text: '(b)', at: [1372, 0.0168], bold: true, size: 19 }
    ],
    arrows: [],
    yTitle: { text: 'Fraction of  total flux', at: 0.109, gap: 73.5, size: 22, spacing: 0.6 }
  };
  new Chart(document.getElementById('cB'), {
    type: 'line',
    data: { datasets: [
      series('Turnoff', turnoffFrac_wave, turnoffFrac, COLORS.turnoff),
      series('Lower Main Sequence', lmsFrac_wave, lmsFrac, COLORS.lms),
      series('Red Giant Branch', rgbFrac_wave, rgbFrac, COLORS.rgb)
    ] },
    options: o, plugins: [frameTicks, notes]
  });
}

// Panel (c)
{
  const o = baseOpts({ left: 62, right: 2, top: 7, bottom: 0 });
  o.scales = { x: xScale(true, 56), y: magScale(-0.97, 7.95, 35.5) };
  o.plugins.frameTicks = { major: magTicks, minor: magMinor(-0.97, 7.95) };
  o.plugins.notes = {
    labels: [
      { text: 'Isochrone', at: [3030, 0.585] },
      { text: 'Red HB / AGB', at: [5106, 1.17] },
      { text: 'EHB', at: [5106, 2.81] },
      { text: 'Post-AGB', at: [5106, 6.95] },
      { text: '(c)', at: [1372, 7.12], bold: true, size: 19 }
    ],
    arrows: [
      [[3801, 0.547], [3877, 0.606], [3922, 0.77]],
      [[6215, 1.11], [6397, 1.21], [6518, 1.41]],
      [[5516, 2.78], [5729, 2.76], [5774, 2.58]],
      [[5941, 6.9], [6153, 6.86], [6198, 6.66]]
    ],
    yTitle: { text: 'M(λ) - V', at: 2.46, gap: 62.5, size: 21 }
  };
  new Chart(document.getElementById('cC'), {
    type: 'line',
    data: { datasets: [
      series('Red HB / AGB', redhb_wave, redhb_mag, COLORS.redhb),
      series('Isochrone', iso_wave, iso_mag, COLORS.iso),
      series('EHB', ehb_wave, ehb_mag, COLORS.ehb),
      series('Post-AGB', pagb_wave, pagb_mag, COLORS.pagb)
    ] },
    options: o, plugins: [frameTicks, notes]
  });
}
</script>
</body>
</html>
